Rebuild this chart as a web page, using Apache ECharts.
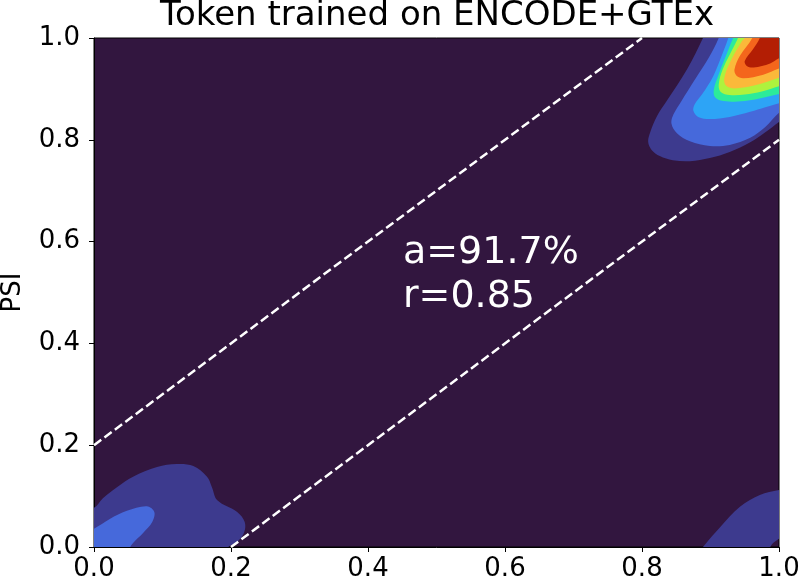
<!DOCTYPE html>
<html>
<head>
<meta charset="utf-8">
<title>Token trained on ENCODE+GTEx</title>
<script src="https://cdn.jsdelivr.net/npm/echarts@6/dist/echarts.min.js"></script>
<style>
  html, body {margin: 0; padding: 0; background: #fff}
  #chart {width: 800px; height: 584px}
</style>
</head>
<body>
<div id="chart"></div>
<script>
  // axis ticks
  const ticks = [0, 0.2, 0.4, 0.6, 0.8, 1.0]
  // density contour bands, [x, y] in data units
  // top right peak, from outer to inner band
  const peak1 = [[0.895, 1.02], [0.889, 1.0], [0.866, 0.939], [0.836, 0.876], [0.822, 0.847], [0.812, 0.815], [0.809, 0.796], [0.814, 0.780], [0.826, 0.768], [0.845, 0.760], [0.870, 0.758], [0.899, 0.764], [0.928, 0.776], [0.958, 0.795], [0.980, 0.815], [1.0, 0.835], [1.02, 0.855], [1.02, 1.02]]
  const peak2 = [[0.915, 1.02], [0.912, 1.0], [0.897, 0.96], [0.878, 0.92], [0.857, 0.875], [0.846, 0.85], [0.843, 0.832], [0.851, 0.813], [0.870, 0.797], [0.899, 0.788], [0.928, 0.790], [0.958, 0.804], [0.980, 0.825], [1.0, 0.853], [1.02, 0.87], [1.02, 1.02]]
  const peak3 = [[0.93, 1.02], [0.926, 1.0], [0.918, 0.971], [0.904, 0.925], [0.888, 0.89], [0.877, 0.87], [0.875, 0.857], [0.882, 0.845], [0.899, 0.841], [0.928, 0.845], [0.958, 0.855], [0.980, 0.864], [1.0, 0.872], [1.02, 0.882], [1.02, 1.02]]
  const peak4 = [[0.936, 1.02], [0.933, 1.0], [0.928, 0.984], [0.911, 0.925], [0.905, 0.9], [0.906, 0.885], [0.915, 0.877], [0.935, 0.875], [0.955, 0.877], [0.975, 0.882], [1.0, 0.89], [1.02, 0.896], [1.02, 1.02]]
  const peak5 = [[0.943, 1.02], [0.940, 1.0], [0.936, 0.988], [0.918, 0.939], [0.912, 0.908], [0.915, 0.894], [0.928, 0.888], [0.950, 0.889], [0.975, 0.895], [1.0, 0.905], [1.02, 0.912], [1.02, 1.02]]
  const peak6 = [[0.953, 1.02], [0.950, 1.0], [0.946, 0.994], [0.928, 0.951], [0.920, 0.92], [0.923, 0.906], [0.935, 0.901], [0.962, 0.906], [0.985, 0.915], [1.0, 0.922], [1.02, 0.93], [1.02, 1.02]]
  const peak7 = [[0.965, 1.02], [0.961, 1.0], [0.943, 0.965], [0.935, 0.938], [0.938, 0.926], [0.948, 0.921], [0.977, 0.928], [1.0, 0.94], [1.02, 0.95], [1.02, 1.02]]
  const peak8 = [[0.975, 1.02], [0.972, 1.0], [0.962, 0.978], [0.950, 0.955], [0.953, 0.945], [0.963, 0.942], [0.987, 0.950], [1.0, 0.96], [1.02, 0.97], [1.02, 1.02]]
  // bottom left blob
  const low1 = [[-0.02, 0.07], [0.0, 0.077], [0.013, 0.096], [0.034, 0.118], [0.057, 0.138], [0.092, 0.157], [0.121, 0.163], [0.145, 0.159], [0.165, 0.138], [0.172, 0.118], [0.180, 0.092], [0.209, 0.069], [0.220, 0.049], [0.219, 0.028], [0.209, 0.010], [0.196, 0.0], [0.19, -0.02], [-0.02, -0.02]]
  const low2 = [[-0.02, 0.025], [0.0, 0.036], [0.023, 0.055], [0.048, 0.071], [0.077, 0.080], [0.088, 0.069], [0.085, 0.049], [0.072, 0.028], [0.057, 0.008], [0.053, 0.0], [0.05, -0.02], [-0.02, -0.02]]
  // bottom right blob
  const corner1 = [[0.88, -0.02], [0.889, 0.0], [0.914, 0.039], [0.943, 0.079], [0.972, 0.102], [1.0, 0.112], [1.02, 0.116], [1.02, 0.04], [0.99, 0.006], [0.978, -0.02]]
  const bands = [peak1, peak2, peak3, peak4, peak5, peak6, peak7, peak8, low1, low2, corner1]
  const bandColors = ['#3d3a8e', '#4669db', '#2da4f6', '#2ceb9a', '#aef23e', '#fbb93a', '#f4661c', '#b31e04', '#3d3a8e', '#4669db', '#3d3a8e']
  // dashed +-0.2 guide lines
  const upperGuide = [[0, 0.2], [0.8, 1.0]]
  const lowerGuide = [[0.2, 0], [1.0, 0.8]]
  const annot = [[0.451, 0.62]]
  const annotText = 'a=91.7%\nr=0.85'

  const chart = echarts.init(document.getElementById('chart'))
  const font = 'DejaVu Sans'
  const axisCommon = {
    type: 'value', min: 0, max: 1, interval: 0.2,
    axisLine: {show: true, onZero: false, lineStyle: {color: '#000', width: 1}},
    axisTick: {show: true, inside: false, length: 5, lineStyle: {color: '#000', width: 1}},
    splitLine: {show: false},
    axisLabel: {formatter: v => v.toFixed(1), fontSize: 26, color: '#000', fontFamily: font},
  }
  chart.setOption({
    animation: false,
    graphic: [{
      type: 'text', x: 437, y: 16,
      style: {text: 'Token trained on ENCODE+GTEx', fontSize: 34, fontFamily: font, fill: '#000', textAlign: 'center', textVerticalAlign: 'middle'},
    }],
    grid: {
      left: 94, right: 21, top: 38, bottom: 37, outerBoundsMode: 'none', containLabel: false,
      show: true, backgroundColor: '#32163f', borderColor: '#000', borderWidth: 1,
    },
    xAxis: Object.assign({}, axisCommon, {axisLabel: Object.assign({}, axisCommon.axisLabel, {margin: 9})}),
    yAxis: Object.assign({}, axisCommon, {
      name: 'PSI', nameLocation: 'middle', nameGap: 68,
      nameTextStyle: {fontSize: 26, color: '#000', fontFamily: font},
      axisLabel: Object.assign({}, axisCommon.axisLabel, {margin: 14}),
    }),
    series: [
      {
        type: 'custom', coordinateSystem: 'cartesian2d', clip: true, silent: true, z: 1,
        data: bands.map(b => b[1]),
        renderItem(params, api) {
          const pts = bands[params.dataIndex].map(p => api.coord(p))
          return {type: 'polygon', shape: {points: pts, smooth: 0.35}, style: {fill: bandColors[params.dataIndex]}}
        },
      },
      {type: 'line', data: upperGuide, symbol: 'none', silent: true, z: 3, lineStyle: {color: '#fff', width: 2.5, type: [9, 4]}},
      {type: 'line', data: lowerGuide, symbol: 'none', silent: true, z: 3, lineStyle: {color: '#fff', width: 2.5, type: [9, 4]}},
      {
        type: 'scatter', data: annot, symbolSize: 0, silent: true, z: 4,
        itemStyle: {opacity: 1},
        label: {show: true, formatter: annotText, position: [0, 0], align: 'left', verticalAlign: 'top', fontSize: 38, lineHeight: 44, color: '#ffffff', opacity: 1, fontFamily: font},
      },
    ],
  })
</script>
</body>
</html>
